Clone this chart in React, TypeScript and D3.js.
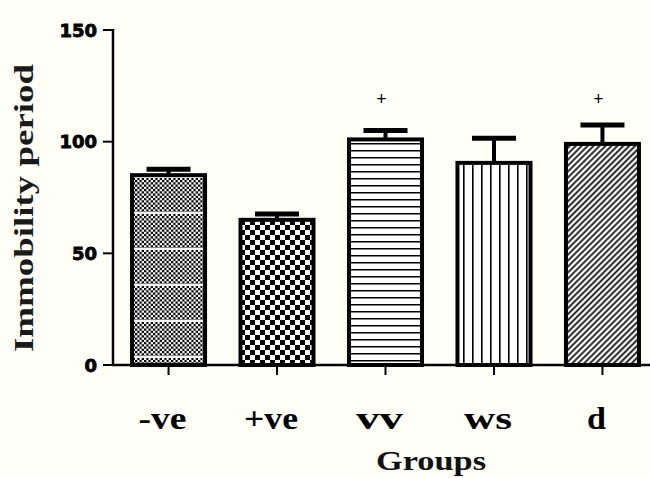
import React from "react";
import * as d3 from "d3";

// Immobility period per treatment group (mean with upward SEM bar)
const groups = ["-ve", "+ve", "vv", "ws", "d"];
const means = [85, 65, 101, 90.5, 99];
const errors = [2.7, 2.6, 4, 11, 8.5];
const marks = ["", "", "+", "", "+"];
const yTicks = [0, 50, 100, 150];
const yTitle = "Immobility period";
const xTitle = "Groups";

const W = 650;
const H = 478;

const fills = ["url(#fineCheck)", "url(#coarseCheck)", "url(#hLines)", "url(#vLines)", "url(#diag)"];
// rendered widths of the category labels (wide bold serif)
const labelWidth: Record<string, number> = { "-ve": 48, "+ve": 54, vv: 47, ws: 48, d: 19 };

export default function App() {
  const x = d3
    .scaleBand<string>()
    .domain(groups)
    .range([113, 658])
    .paddingInner(0.29)
    .paddingOuter(0.157);
  const y = d3.scaleLinear().domain([0, 150]).range([365, 30]);
  const bw = x.bandwidth();
  const serif = "'Times New Roman', 'Liberation Serif', Tinos, serif";

  // fine checkerboard with a light band every 36px
  const cell = 2.25;
  const fineCells: JSX.Element[] = [];
  for (let r = 0; r < 16; r++) {
    for (let c = 0; c < 2; c++) {
      if ((r + c) % 2 === 0) {
        fineCells.push(
          <rect key={`${r}-${c}`} x={c * cell} y={r * cell} width={cell} height={cell} fill="#000" />
        );
      }
    }
  }

  return (
    <svg
      width={W}
      height={H}
      viewBox={`0 0 ${W} ${H}`}
      style={{ position: "absolute", left: 0, top: 0, background: "#fffef7" }}
    >
      <defs>
        <pattern id="fineCheck" width={cell * 2} height={36} patternUnits="userSpaceOnUse">
          <rect width={cell * 2} height={36} fill="#fff" />
          {fineCells}
          <rect x={0} y={32} width={cell * 2} height={2} fill="#f4f4f4" />
        </pattern>
        <pattern id="coarseCheck" width={10} height={10} patternUnits="userSpaceOnUse">
          <rect width={10} height={10} fill="#fff" />
          <rect x={0} y={0} width={5} height={5} fill="#000" />
          <rect x={5} y={5} width={5} height={5} fill="#000" />
        </pattern>
        <pattern id="hLines" width={10} height={7} patternUnits="userSpaceOnUse">
          <rect width={10} height={7} fill="#fff" />
          <rect x={0} y={3} width={10} height={1.5} fill="#000" />
        </pattern>
        <pattern id="vLines" width={9} height={10} patternUnits="userSpaceOnUse">
          <rect width={9} height={10} fill="#fff" />
          <rect x={4} y={0} width={1.6} height={10} fill="#000" />
        </pattern>
        <pattern
          id="diag"
          width={4.2}
          height={10}
          patternUnits="userSpaceOnUse"
          patternTransform="rotate(45)"
        >
          <rect width={4.2} height={10} fill="#fff" />
          <rect x={1.2} y={0} width={1.8} height={10} fill="#111" />
        </pattern>
      </defs>

      {/* bars */}
      {groups.map((g, i) => {
        const x0 = x(g)!;
        const cx = x0 + bw / 2;
        const top = y(means[i]);
        const hi = y(means[i] + errors[i]);
        return (
          <g key={g}>
            <line x1={cx} x2={cx} y1={top} y2={hi} stroke="#000" strokeWidth={4} />
            <line x1={cx - 22} x2={cx + 22} y1={hi} y2={hi} stroke="#000" strokeWidth={5} />
            <rect
              x={x0 + 2}
              y={top}
              width={bw - 4}
              height={y(0) - top}
              fill={fills[i]}
              stroke="#000"
              strokeWidth={4}
            />
            {marks[i] && (
              <text
                x={cx - 4}
                y={99}
                textAnchor="middle"
                dominantBaseline="central"
                fontFamily={serif}
                fontWeight="bold"
                fontSize={18}
                fill="#000"
              >
                {marks[i]}
              </text>
            )}
          </g>
        );
      })}

      {/* y axis */}
      <line x1={113} x2={113} y1={y(150) - 1} y2={y(0) + 1} stroke="#000" strokeWidth={2.5} />
      {yTicks.map((t) => (
        <g key={t}>
          <line x1={103} x2={113} y1={y(t)} y2={y(t)} stroke="#000" strokeWidth={2} />
          <text
            x={97}
            y={y(t)}
            textAnchor="end"
            dominantBaseline="central"
            fontFamily="'DejaVu Sans', sans-serif"
            fontWeight="bold"
            fontSize={18}
            fill="#000"
            stroke="#000"
            strokeWidth={0.8}
          >
            {t}
          </text>
        </g>
      ))}

      {/* x axis */}
      <line x1={112} x2={W} y1={y(0)} y2={y(0)} stroke="#000" strokeWidth={2.5} />
      {groups.map((g) => {
        const cx = x(g)! + bw / 2;
        return (
          <g key={g}>
            <line x1={cx} x2={cx} y1={y(0)} y2={y(0) + 10} stroke="#000" strokeWidth={2} />
            <text
              x={cx - 6}
              y={429}
              textAnchor="middle"
              fontFamily={serif}
              fontWeight="bold"
              fontSize={31}
              fill="#000"
              textLength={labelWidth[g]}
              lengthAdjust="spacingAndGlyphs"
            >
              {g}
            </text>
          </g>
        );
      })}

      <text
        x={431}
        y={470}
        textAnchor="middle"
        fontFamily={serif}
        fontWeight="bold"
        fontSize={28}
        fill="#111"
        textLength={110}
        lengthAdjust="spacingAndGlyphs"
      >
        {xTitle}
      </text>

      <text
        transform="translate(33,208) rotate(-90)"
        textAnchor="middle"
        fontFamily={serif}
        fontWeight="bold"
        fontSize={28}
        fill="#1a1a1a"
        textLength={288}
        lengthAdjust="spacingAndGlyphs"
      >
        {yTitle}
      </text>
    </svg>
  );
}
